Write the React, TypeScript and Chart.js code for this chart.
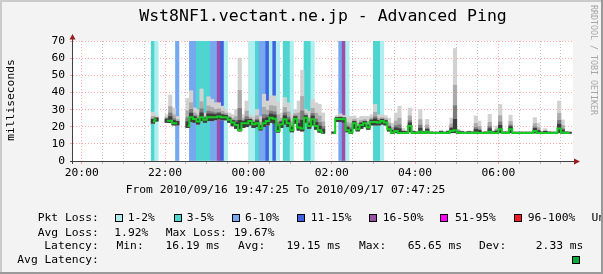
import React, { useEffect, useRef } from 'react';
import { Chart, registerables } from 'chart.js';

Chart.register(...registerables);

// ---------- text ----------
const TITLE = 'Wst8NF1.vectant.ne.jp - Advanced Ping';
const Y_TITLE = 'milliseconds';
const PERIOD = 'From 2010/09/16 19:47:25 To 2010/09/17 07:47:25';
const WATERMARK = 'RRDTOOL / TOBI OETIKER';

// ---------- axes ----------
const SPAN_MINUTES = 720; // 19:47:25 -> 07:47:25
const FIRST_TICK = 12 + 35 / 60; // 20:00 is 12m35s after the start
const MINOR_STEP = 30; // minutes between vertical grid lines
const X_TICK_LABELS = ['20:00', '22:00', '00:00', '02:00', '04:00', '06:00'];
const Y_MAX = 70;
const Y_STEP = 5;

// ---------- samples (5-minute slots, slot 0 = 19:50-19:55) ----------
const SLOT_MINUTES = 5;
const FIRST_SLOT_CENTER = 2 + 35 / 60 + 2.5; // centre of slot 0, minutes after start
const FIRST_SLOT = 22; // first slot listed in the arrays below

const MEDIAN = [
  23, 24.3, null, null, 23.5, 23.5, 22, 22, null, null,
  20.4, 25.5, 24.5, 23, 25.5, 24, 25.5, 25.5, 25.5, 26,
  25.5, 25.5, 24, 22.5, 21, 18.1, 22, 22, 23.3, 21.4,
  22, 19, 22, 23.3, 25.3, 24.7, 17.5, 21.4, 24.3, 22,
  18, 24.7, 19.5, 19, 25.3, 20.4, 24.3, 20.4, 18, 16.6,
  null, null, 16.3, 24.5, 24.5, 24.3, 18, 16.6, 22, 18.5,
  21, 22, 19.5, 22.8, 22.8, 22.4, 23.3, 22.5, 18.5, 16.6,
  17.5, 16.4, 16.4, 16.4, 20.4, 16.4, 16.4, 17, 16.4, 17,
  16.4, 16.4, 16.4, 16.4, 16.4, 16.5, 17.5, 18, 16.6, 16.4,
  16.4, 16.4, 16.4, 16.6, 16.4, 16.4, 16.4, 17, 16.4, 16.4,
  18.5, 16.4, 16.4, 18.5, 16.4, 16.4, 16.4, 16.4, 16.4, 16.4,
  17.5, 16.4, 16.4, 16.4, 16.4, 16.4, 16.4, 18.9, 16.6, 16.4,
  16.4,
];

const HIGH = [
  28.5, 26.5, null, null, 27, 38.5, 31, 26, null, null,
  36.5, 41, 31, 30, 42, 28, 37.5, 36, 34, 34,
  32, 30, 28, 27, 30, 60, 27, 35, 27, 26,
  30, 26, 39, 35, 38, 38, 34.6, 28, 37, 34,
  27, 30, 35, 53, 30, 29, 36, 34, 33, 28,
  null, null, 17, 26.5, 27.5, 26.5, 26, 26, 26.3, 25,
  26, 26, 26, 27, 33, 27, 27, 26.5, 25, 22,
  28, 32, 19, 18, 31, 18, 17, 30, 17.5, 24.3,
  17, 16.9, 16.9, 18, 16.9, 18, 25, 65.65, 18.5, 17.5,
  16.9, 17.5, 17, 26.3, 23.3, 16.9, 17, 27.2, 17.5, 20.4,
  33, 17, 17, 26.7, 16.9, 16.9, 16.9, 16.9, 16.9, 16.9,
  25.3, 22, 17, 18.9, 17, 16.9, 16.9, 35, 24, 17,
  16.9,
];

const LOW = [
  22, 23.3, null, null, 22.5, 22.5, 21, 21, null, null,
  19.5, 23, 22.5, 21.5, 23.5, 22.5, 23.5, 23.5, 24, 24.5,
  24, 24, 22.5, 20.5, 19, 17.5, 19.5, 20, 21, 19.5,
  20, 18, 20, 21, 22.5, 22, 16.8, 19.5, 21.5, 20,
  17, 22, 18, 17.5, 22.5, 19, 21, 18.5, 16.8, 16.2,
  null, null, 16.2, 23, 23, 22.5, 17, 16.2, 19, 17.5,
  19, 20, 18.5, 21, 21, 21, 21.5, 21, 17.5, 16.2,
  16.5, 16.2, 16.2, 16.2, 17, 16.2, 16.2, 16.3, 16.2, 16.3,
  16.2, 16.2, 16.2, 16.2, 16.2, 16.2, 16.5, 16.5, 16.2, 16.2,
  16.2, 16.2, 16.2, 16.3, 16.2, 16.2, 16.2, 16.3, 16.2, 16.2,
  16.5, 16.2, 16.2, 16.5, 16.2, 16.2, 16.2, 16.2, 16.2, 16.2,
  16.4, 16.2, 16.2, 16.2, 16.2, 16.2, 16.2, 16.5, 16.2, 16.2,
  16.2,
];

// packet loss per slot (only slots with loss)
const LOSS_SLOTS = [22, 23, 29, 33, 34, 35, 36, 37, 38, 39, 40, 41, 42, 43, 50, 51, 52, 53, 54, 55, 56, 57, 58, 60, 61, 62, 66, 67, 68, 76, 77, 78, 86, 87, 88];
const LOSS_PCT = [4, 1.5, 8, 8, 8, 4, 4, 4, 4, 8, 8, 19.67, 13, 1.5, 1.5, 1.5, 4, 8, 8, 13, 1.5, 13, 1.5, 4, 4, 1.5, 4, 4, 1.5, 8, 18, 1.5, 4, 4, 1.5];

const LOSS_LABELS = ['1-2%', '3-5%', '6-10%', '11-15%', '16-50%', '51-95%', '96-100%'];
const LOSS_LIMITS = [2, 5, 10, 15, 50, 95, 100];
const LOSS_COLORS = ['#afeeee', '#4fd5d0', '#75a8ef', '#3f63e0', '#9b4fa8', '#ff00ff', '#ee1c24'];

// ---------- legend statistics ----------
const AVG_LOSS = '1.92%';
const MAX_LOSS = '19.67%';
const LAT_MIN = '16.19 ms';
const LAT_AVG = '19.15 ms';
const LAT_MAX = '65.65 ms';
const LAT_DEV = '2.33 ms';

// ---------- styling ----------
const W = 603;
const H = 274;
const FONT = '"DejaVu Sans Mono", "Liberation Mono", monospace';
const MAJOR_GRID = 'rgba(255,0,0,0.32)';
const MINOR_GRID = 'rgba(120,120,120,0.45)';
const MEDIAN_COLOR = '#14cc24';
const SMOKE_COLORS = ['#d2d2d2', '#ababab', '#7c7c7c', '#3c3c3c'];
const SMOKE_FRACTIONS = [1, 0.55, 0.3, 0.12];

const slotX = (slot: number) => FIRST_SLOT_CENTER + SLOT_MINUTES * slot;
const lossColor = (p: number) => {
  for (let i = 0; i < LOSS_LIMITS.length; i++) if (p <= LOSS_LIMITS[i]) return LOSS_COLORS[i];
  return LOSS_COLORS[LOSS_COLORS.length - 1];
};

function smokeBand(level: number) {
  const out: any[] = [];
  MEDIAN.forEach((m, i) => {
    const hi = HIGH[i];
    const lo = LOW[i];
    if (m == null || hi == null || lo == null) return;
    const extra = level === 3 ? 0.6 : 0;
    const top = Math.min(hi, m + (hi - m) * SMOKE_FRACTIONS[level] + extra);
    out.push({ x: slotX(FIRST_SLOT + i), y: [lo, top] });
  });
  return out;
}

const decor = {
  id: 'rrdDecor',
  beforeDraw(chart: any) {
    const { ctx, chartArea: a } = chart;
    ctx.save();
    ctx.fillStyle = '#f3f3f3';
    ctx.fillRect(0, 0, W, H);
    ctx.fillStyle = '#ffffff';
    ctx.fillRect(a.left, a.top, a.right - a.left, a.bottom - a.top);
    ctx.restore();
  },
  afterDraw(chart: any) {
    const { ctx, chartArea: a } = chart;
    ctx.save();
    // axis lines
    const yb = Math.round(a.bottom) + 0.5;
    const xl = Math.round(a.left) - 0.5;
    ctx.strokeStyle = '#404040';
    ctx.lineWidth = 1;
    ctx.beginPath();
    ctx.moveTo(a.left - 3, yb);
    ctx.lineTo(a.right + 1, yb);
    ctx.moveTo(xl, a.bottom + 3);
    ctx.lineTo(xl, a.top - 2);
    ctx.stroke();
    // arrows
    ctx.fillStyle = '#9b1c1c';
    ctx.beginPath();
    ctx.moveTo(a.right + 7, yb);
    ctx.lineTo(a.right + 1, yb - 3);
    ctx.lineTo(a.right + 1, yb + 3);
    ctx.closePath();
    ctx.fill();
    ctx.beginPath();
    ctx.moveTo(xl, a.top - 7);
    ctx.lineTo(xl - 3, a.top - 1.5);
    ctx.lineTo(xl + 3, a.top - 1.5);
    ctx.closePath();
    ctx.fill();

    // title
    ctx.fillStyle = '#000';
    ctx.textBaseline = 'middle';
    ctx.textAlign = 'center';
    ctx.font = `16.5px ${FONT}`;
    ctx.fillText(TITLE, (a.left + a.right) / 2, 17);

    ctx.font = `11.3px ${FONT}`;
    ctx.fillText(PERIOD, 285.5, 190);

    // y title
    ctx.save();
    ctx.translate(11.5, 100);
    ctx.rotate(-Math.PI / 2);
    ctx.fillText(Y_TITLE, 0, 0);
    ctx.restore();

    // watermark
    ctx.save();
    ctx.translate(593.5, 60);
    ctx.rotate(Math.PI / 2);
    ctx.fillStyle = '#a6a6a6';
    ctx.font = `8.3px ${FONT}`;
    ctx.fillText(WATERMARK, 0, 0);
    ctx.restore();

    // legend
    ctx.textAlign = 'left';
    ctx.fillStyle = '#000';
    ctx.font = `11.3px ${FONT}`;
    const r1 = 218.3, r2 = 232.7, r3 = 246, r4 = 260.3;
    ctx.fillText('Pkt Loss:', 37.7, r1);
    const boxX = [115, 174, 232, 297, 369, 440, 513.5];
    const textX = [127.7, 186.7, 245, 310.8, 382.7, 455, 527.7];
    LOSS_LABELS.forEach((lab, i) => {
      const bx = Math.round(boxX[i]) + 0.5;
      ctx.fillStyle = LOSS_COLORS[i];
      ctx.fillRect(bx, 214.5, 7, 7);
      ctx.strokeStyle = '#000';
      ctx.lineWidth = 1;
      ctx.strokeRect(bx, 214.5, 7, 7);
      ctx.fillStyle = '#000';
      ctx.fillText(lab, textX[i], r1);
    });
    ctx.fillText('Unknown', 591.5, r1);

    ctx.fillText('Avg Loss:', 37.7, r2);
    ctx.fillText(AVG_LOSS, 114.3, r2);
    ctx.fillText('Max Loss: ' + MAX_LOSS, 165.7, r2);

    ctx.fillText('Latency:', 44.3, r3);
    ctx.fillText('Min:', 116.5, r3);
    ctx.fillText(LAT_MIN, 165.5, r3);
    ctx.fillText('Avg:', 238, r3);
    ctx.fillText(LAT_AVG, 286.5, r3);
    ctx.fillText('Max:', 359, r3);
    ctx.fillText(LAT_MAX, 407.7, r3);
    ctx.fillText('Dev:', 479, r3);
    ctx.fillText(LAT_DEV, 535.8, r3);

    ctx.fillText('Avg Latency:', 17.3, r4);
    ctx.fillStyle = '#0fa83a';
    ctx.fillRect(572.5, 256.5, 7, 7);
    ctx.strokeStyle = '#000';
    ctx.strokeRect(572.5, 256.5, 7, 7);

    // frame
    ctx.fillStyle = '#cbcbcb';
    ctx.fillRect(0, 0, W, 2);
    ctx.fillRect(0, 0, 2, H);
    ctx.fillStyle = '#9a9a9a';
    ctx.fillRect(0, H - 2, W, 2);
    ctx.fillRect(W - 2, 0, 2, H);
    ctx.restore();
  },
};

export default function App() {
  const ref = useRef<HTMLCanvasElement>(null);

  useEffect(() => {
    const canvas = ref.current;
    if (!canvas) return;

    const lossData = LOSS_SLOTS.map((s) => ({ x: slotX(s), y: [0, Y_MAX] }));
    const medianData = MEDIAN.map((m, i) => ({ x: slotX(FIRST_SLOT + i), y: m }));

    const tickFont = { family: FONT, size: 11.3 };

    const chart = new Chart(canvas, {
      type: 'bar',
      data: {
        datasets: [
          {
            type: 'line',
            data: medianData as any,
            borderColor: MEDIAN_COLOR,
            borderWidth: 2,
            pointRadius: 0,
            stepped: 'middle',
            spanGaps: false,
            fill: false,
            order: 0,
          } as any,
          { data: smokeBand(3) as any, backgroundColor: SMOKE_COLORS[3], order: 1 },
          { data: smokeBand(2) as any, backgroundColor: SMOKE_COLORS[2], order: 2 },
          { data: smokeBand(1) as any, backgroundColor: SMOKE_COLORS[1], order: 3 },
          { data: smokeBand(0) as any, backgroundColor: SMOKE_COLORS[0], order: 4 },
          { data: lossData as any, backgroundColor: LOSS_PCT.map(lossColor), order: 5 },
        ],
      },
      options: {
        responsive: false,
        maintainAspectRatio: false,
        devicePixelRatio: 1,
        animation: false,
        events: [],
        layout: { padding: { left: 0, right: 30, top: 41, bottom: 0 } },
        datasets: {
          bar: { grouped: false, barPercentage: 1, categoryPercentage: 1, borderWidth: 0 },
        } as any,
        plugins: {
          legend: { display: false },
          tooltip: { enabled: false },
          title: { display: false },
        },
        scales: {
          x: {
            type: 'linear',
            min: 0,
            max: SPAN_MINUTES,
            offset: false,
            afterBuildTicks: (s: any) => {
              const t: any[] = [];
              for (let v = FIRST_TICK; v < SPAN_MINUTES; v += MINOR_STEP) t.push({ value: v });
              s.ticks = t;
            },
            afterFit: (s: any) => {
              s.height = 113;
            },
            ticks: {
              autoSkip: false,
              maxRotation: 0,
              minRotation: 0,
              padding: 2,
              color: '#000',
              font: tickFont,
              callback: (_v: any, i: number) => (i % 4 === 0 ? X_TICK_LABELS[i / 4] : ''),
            },
            grid: {
              offset: false,
              color: (c: any) => (c.index % 4 === 0 ? MAJOR_GRID : MINOR_GRID),
              lineWidth: 1,
              drawTicks: true,
              tickLength: 3,
            },
            border: { display: false, dash: [1, 2] },
          } as any,
          y: {
            min: 0,
            max: Y_MAX,
            afterFit: (s: any) => {
              s.width = 73;
            },
            ticks: {
              stepSize: Y_STEP,
              padding: 5,
              color: '#000',
              font: tickFont,
              callback: (v: any) => (v % 10 === 0 ? String(v) : ''),
            },
            grid: {
              color: (c: any) => (c.tick && c.tick.value % 10 === 0 ? MAJOR_GRID : MINOR_GRID),
              lineWidth: 1,
              drawTicks: true,
              tickLength: 3,
            },
            border: { display: false, dash: [1, 2] },
          } as any,
        },
      },
      plugins: [decor as any],
    });

    return () => chart.destroy();
  }, []);

  return (
    <div style={{ position: 'fixed', left: 0, top: 0, width: W, height: H }}>
      <canvas ref={ref} width={W} height={H} style={{ display: 'block', width: W, height: H }} />
    </div>
  );
}
